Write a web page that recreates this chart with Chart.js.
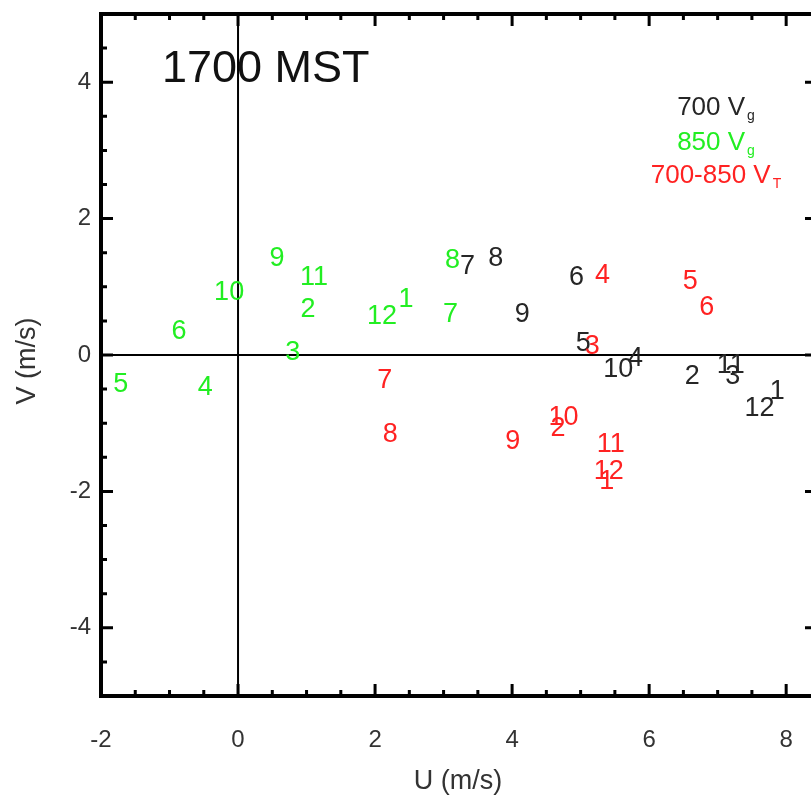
<!DOCTYPE html>
<html>
<head>
<meta charset="utf-8">
<script src="https://cdn.jsdelivr.net/npm/chart.js@4/dist/chart.umd.min.js"></script>
<style>
  html, body { margin: 0; padding: 0; background: #fff; overflow: hidden; }
  #wrap { width: 830px; height: 795px; }
</style>
</head>
<body>
<div id="wrap"><canvas id="uv-chart"></canvas></div>
<script>
// month numbers used as the point labels
var months = [1, 2, 3, 4, 5, 6, 7, 8, 9, 10, 11, 12];

// 700 hPa geostrophic wind
var u700 = [7.87, 6.63, 7.22, 5.80, 5.04, 4.94, 3.35, 3.76, 4.15, 5.55, 7.19, 7.61];
var v700 = [-0.54, -0.31, -0.31, -0.05, 0.17, 1.13, 1.29, 1.42, 0.59, -0.21, -0.16, -0.78];

// 850 hPa geostrophic wind
var u850 = [2.45, 1.02, 0.80, -0.48, -1.71, -0.86, 3.10, 3.13, 0.57, -0.13, 1.11, 2.10];
var v850 = [0.81, 0.66, 0.03, -0.47, -0.44, 0.34, 0.59, 1.39, 1.41, 0.91, 1.14, 0.56];

// 700-850 thermal wind
var uThermal = [5.38, 4.67, 5.17, 5.32, 6.60, 6.84, 2.14, 2.22, 4.01, 4.75, 5.44, 5.41];
var vThermal = [-1.86, -1.08, 0.12, 1.16, 1.08, 0.70, -0.37, -1.17, -1.27, -0.91, -1.32, -1.71];

var xTicks = [-2, 0, 2, 4, 6, 8];
var yTicks = [-4, -2, 0, 2, 4];

var FONT = '"Liberation Sans", Arial, Helvetica, sans-serif';
var BLACK = '#262626';
var GREEN = '#22ee22';
var RED = '#ff2222';

function toPoints(us, vs) {
    return us.map(function (u, i) { return { x: u, y: vs[i] }; });
}

// no extra room for edge labels, the frame sits at the padding
function noPadding(scale) {
    scale.paddingTop = 0;
    scale.paddingBottom = 0;
    scale.paddingLeft = 0;
    scale.paddingRight = 0;
}

// zero lines, boxed frame and inward ticks
var framePlugin = {
    id: 'frame',
    beforeDatasetsDraw: function (chart) {
        var ctx = chart.ctx, a = chart.chartArea;
        var xs = chart.scales.x, ys = chart.scales.y;
        ctx.save();
        ctx.strokeStyle = '#000';
        ctx.lineWidth = 2;
        var x0 = xs.getPixelForValue(0), y0 = ys.getPixelForValue(0);
        ctx.beginPath();
        ctx.moveTo(x0, a.top); ctx.lineTo(x0, a.bottom);
        ctx.moveTo(a.left, y0); ctx.lineTo(a.right, y0);
        ctx.stroke();
        ctx.restore();
    },
    afterDatasetsDraw: function (chart) {
        var ctx = chart.ctx, a = chart.chartArea;
        var xs = chart.scales.x, ys = chart.scales.y;
        ctx.save();
        ctx.strokeStyle = '#000';
        ctx.lineWidth = 3;
        ctx.beginPath();
        for (var v = -2; v <= xs.max + 1e-6; v += 0.5) {
            var len = (Math.abs(v % 2) < 1e-6) ? 12 : 6;
            var px = xs.getPixelForValue(v);
            ctx.moveTo(px, a.bottom); ctx.lineTo(px, a.bottom - len);
            ctx.moveTo(px, a.top); ctx.lineTo(px, a.top + len);
        }
        for (var w = -5; w <= 5 + 1e-6; w += 0.5) {
            var len2 = (Math.abs(w % 2) < 1e-6) ? 12 : 6;
            var py = ys.getPixelForValue(w);
            ctx.moveTo(a.left, py); ctx.lineTo(a.left + len2, py);
            ctx.moveTo(a.right, py); ctx.lineTo(a.right - len2, py);
        }
        ctx.stroke();
        ctx.lineWidth = 4;
        ctx.strokeRect(a.left, a.top, a.right - a.left, a.bottom - a.top);
        ctx.restore();
    }
};

// month numbers written at each point, plus title, legend and axis titles
var labelPlugin = {
    id: 'labels',
    afterDatasetsDraw: function (chart) {
        var ctx = chart.ctx;
        ctx.save();
        ctx.textAlign = 'center';
        ctx.textBaseline = 'middle';
        ctx.font = '27px ' + FONT;
        chart.data.datasets.forEach(function (ds, di) {
            var meta = chart.getDatasetMeta(di);
            meta.data.forEach(function (el, i) {
                ctx.fillStyle = ds.labelColor;
                ctx.fillText(String(months[i]), el.x, el.y);
            });
        });

        ctx.textBaseline = 'alphabetic';
        ctx.textAlign = 'left';
        ctx.fillStyle = '#111';
        ctx.font = '45px ' + FONT;
        ctx.fillText('1700 MST', 162, 82);

        var legend = [
            { text: '700 V', sub: 'g', color: BLACK, y: 115 },
            { text: '850 V', sub: 'g', color: GREEN, y: 150 },
            { text: '700-850 V', sub: 'T', color: RED, y: 183 }
        ];
        legend.forEach(function (item) {
            ctx.font = '26px ' + FONT;
            var w1 = ctx.measureText(item.text).width;
            ctx.font = '14px ' + FONT;
            var w2 = ctx.measureText(item.sub).width;
            var left = 716 - (w1 + 2 + w2) / 2;
            ctx.fillStyle = item.color;
            ctx.font = '26px ' + FONT;
            ctx.fillText(item.text, left, item.y);
            ctx.font = '14px ' + FONT;
            ctx.fillText(item.sub, left + w1 + 2, item.y + 5);
        });

        ctx.fillStyle = '#333';
        ctx.font = '27px ' + FONT;
        ctx.textAlign = 'center';
        ctx.textBaseline = 'middle';
        ctx.fillText('U (m/s)', 458, 782);
        ctx.translate(28, 361);
        ctx.rotate(-Math.PI / 2);
        ctx.fillText('V (m/s)', 0, 0);
        ctx.restore();
    }
};

new Chart(
    document.getElementById('uv-chart'),
    {
        type: 'scatter',
        data: {
            datasets: [
                { label: '700 Vg', data: toPoints(u700, v700), labelColor: BLACK, pointRadius: 0 },
                { label: '850 Vg', data: toPoints(u850, v850), labelColor: GREEN, pointRadius: 0 },
                { label: '700-850 VT', data: toPoints(uThermal, vThermal), labelColor: RED, pointRadius: 0 }
            ]
        },
        options: {
            responsive: true,
            maintainAspectRatio: false,
            animation: false,
            layout: { padding: { top: 14, right: 13, left: 0, bottom: 0 } },
            plugins: {
                legend: { display: false },
                tooltip: { enabled: false }
            },
            scales: {
                x: {
                    type: 'linear',
                    min: -2,
                    max: 8.45,
                    afterFit: function (scale) { scale.height = 99; noPadding(scale); },
                    afterBuildTicks: function (scale) {
                        scale.ticks = xTicks.map(function (v) { return { value: v }; });
                    },
                    grid: { display: false, drawTicks: false },
                    border: { display: false },
                    ticks: {
                        padding: 30,
                        color: '#333',
                        font: { family: FONT, size: 24 },
                        maxRotation: 0,
                        autoSkip: false
                    }
                },
                y: {
                    type: 'linear',
                    min: -5,
                    max: 5,
                    afterFit: function (scale) { scale.width = 101; noPadding(scale); },
                    afterBuildTicks: function (scale) {
                        scale.ticks = yTicks.map(function (v) { return { value: v }; });
                    },
                    grid: { display: false, drawTicks: false },
                    border: { display: false },
                    ticks: {
                        padding: 10,
                        color: '#333',
                        font: { family: FONT, size: 24 },
                        autoSkip: false
                    }
                }
            }
        },
        plugins: [framePlugin, labelPlugin]
    }
);
</script>
</body>
</html>
